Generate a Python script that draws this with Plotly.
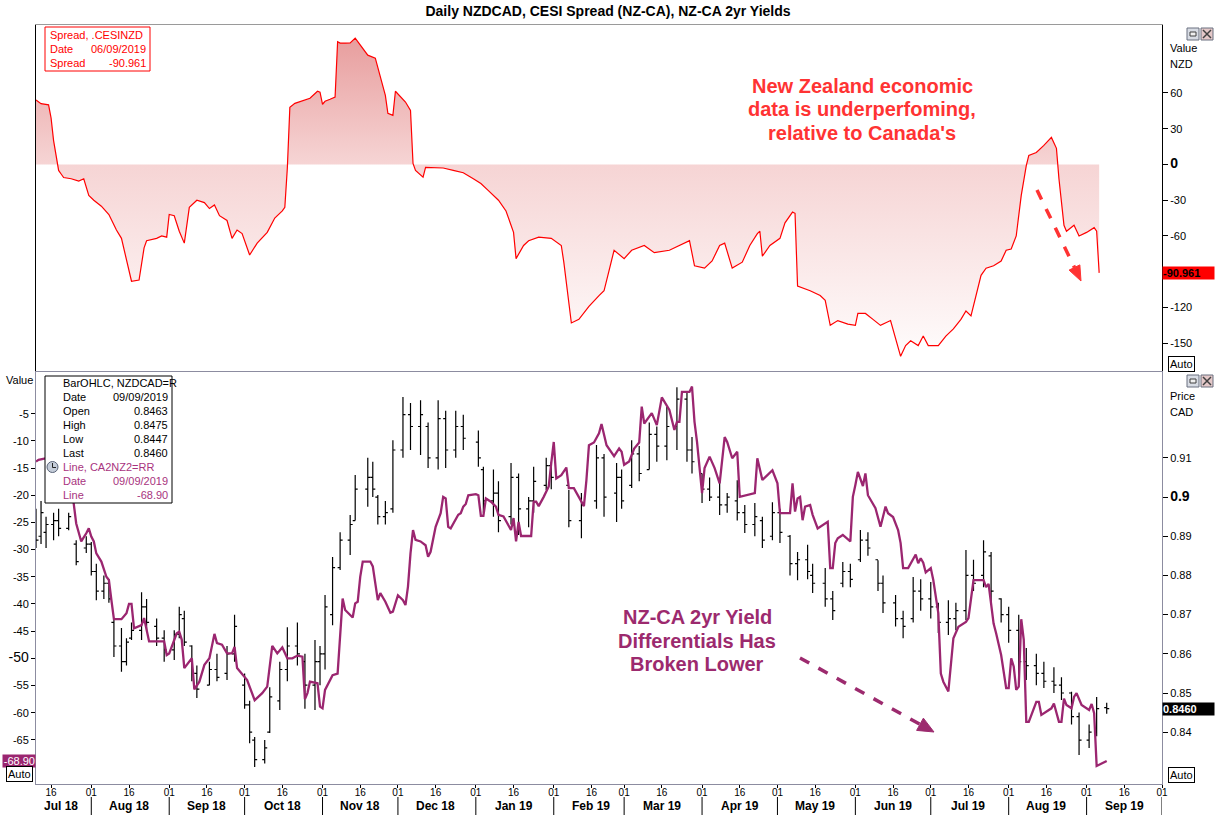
import plotly.graph_objects as go
import datetime as dt

# ---------------- DATA ----------------
# Top panel: CESI spread (NZ - CA)
cesi_dates = [
    "2018-07-10", "2018-07-12", "2018-07-15", "2018-07-16", "2018-07-17", "2018-07-19", "2018-07-20",
    "2018-07-21", "2018-07-24", "2018-07-27", "2018-07-29", "2018-07-31", "2018-08-02", "2018-08-05",
    "2018-08-08", "2018-08-11", "2018-08-13", "2018-08-15", "2018-08-17", "2018-08-20", "2018-08-22",
    "2018-08-23", "2018-08-27", "2018-08-29", "2018-08-31", "2018-09-01", "2018-09-03", "2018-09-05",
    "2018-09-07", "2018-09-09", "2018-09-12", "2018-09-15", "2018-09-17", "2018-09-19", "2018-09-21",
    "2018-09-24", "2018-09-26", "2018-09-28", "2018-09-30", "2018-10-03", "2018-10-06", "2018-10-10",
    "2018-10-13", "2018-10-16", "2018-10-17", "2018-10-18", "2018-10-19", "2018-10-21", "2018-10-24",
    "2018-10-27", "2018-10-30", "2018-10-31", "2018-11-01", "2018-11-02", "2018-11-04", "2018-11-06",
    "2018-11-07", "2018-11-08", "2018-11-10", "2018-11-12", "2018-11-14", "2018-11-16", "2018-11-19",
    "2018-11-22", "2018-11-24", "2018-11-26", "2018-11-27", "2018-11-29", "2018-11-30", "2018-12-02",
    "2018-12-04", "2018-12-06", "2018-12-07", "2018-12-08", "2018-12-11", "2018-12-12", "2018-12-17",
    "2018-12-19", "2018-12-23", "2018-12-27", "2018-12-31", "2019-01-03", "2019-01-06", "2019-01-10",
    "2019-01-13", "2019-01-16", "2019-01-17", "2019-01-20", "2019-01-22", "2019-01-26", "2019-01-31",
    "2019-02-04", "2019-02-05", "2019-02-06", "2019-02-08", "2019-02-11", "2019-02-15", "2019-02-19",
    "2019-02-21", "2019-02-23", "2019-02-25", "2019-03-01", "2019-03-04", "2019-03-09", "2019-03-13",
    "2019-03-19", "2019-03-23", "2019-03-27", "2019-03-29", "2019-04-02", "2019-04-05", "2019-04-08",
    "2019-04-10", "2019-04-13", "2019-04-17", "2019-04-20", "2019-04-23", "2019-04-24", "2019-04-25",
    "2019-04-28", "2019-05-02", "2019-05-04", "2019-05-07", "2019-05-08", "2019-05-09", "2019-05-14",
    "2019-05-18", "2019-05-20", "2019-05-22", "2019-05-25", "2019-05-29", "2019-06-01", "2019-06-02",
    "2019-06-05", "2019-06-08", "2019-06-11", "2019-06-15", "2019-06-17", "2019-06-19", "2019-06-21",
    "2019-06-23", "2019-06-26", "2019-06-28", "2019-06-30", "2019-07-04", "2019-07-07", "2019-07-10",
    "2019-07-13", "2019-07-15", "2019-07-17", "2019-07-19", "2019-07-21", "2019-07-23", "2019-07-26",
    "2019-07-29", "2019-07-31", "2019-08-02", "2019-08-04", "2019-08-06", "2019-08-08", "2019-08-09",
    "2019-08-12", "2019-08-15", "2019-08-17", "2019-08-18", "2019-08-20", "2019-08-21", "2019-08-23",
    "2019-08-24", "2019-08-27", "2019-08-29", "2019-09-01", "2019-09-04", "2019-09-05", "2019-09-06",
]
cesi_values = [
    54, 51, 50, 39, 20, -5, -8,
    -11, -12, -14, -12, -26, -30, -35,
    -42, -55, -62, -80, -98, -97, -70,
    -64, -62, -60, -61, -42, -43, -56,
    -66, -36, -30, -32, -37, -34, -43,
    -47, -62, -55, -58, -76, -66, -57,
    -45, -39, -36, -3, 48, 51.3, 53.3,
    55.5, 61.4, 60.6, 50.5, 53, 54.7, 56.6,
    103, 101.8, 101.8, 102, 106, 100, 91.7,
    89.2, 73.4, 58, 42.9, 41.2, 61.4, 57.2,
    52.4, 45.4, 0.8, -5, -10.7, -2.5, -2.5,
    -3, -5, -7, -12, -16, -22, -30,
    -39, -57, -79, -68, -64, -61, -62,
    -68, -82, -98, -133, -130, -119, -110,
    -106, -89, -72, -79, -72, -68, -74,
    -72, -68, -64, -85, -87, -81, -68,
    -66, -87, -82, -68, -58, -56, -77,
    -68, -62, -49, -40, -41, -102, -106,
    -110, -114, -135, -131, -134, -135, -125,
    -125, -130, -135, -131, -146, -161, -152,
    -148, -152, -144, -152, -152, -144, -138,
    -130, -123, -127, -110, -93, -87, -85,
    -81, -72, -71, -60, -26, -1, 7.6,
    10, 16, 20, 22.7, 13.5, -12, -51,
    -56, -51, -60, -57, -53, -56, -90.961,
]

# Bottom panel: NZDCAD daily OHLC (right axis)
bar_dates = [
    "2018-07-10", "2018-07-12", "2018-07-14", "2018-07-17", "2018-07-19", "2018-07-23", "2018-07-26",
    "2018-07-30", "2018-08-01", "2018-08-03", "2018-08-06", "2018-08-08", "2018-08-10", "2018-08-13",
    "2018-08-15", "2018-08-17", "2018-08-21", "2018-08-23", "2018-08-27", "2018-08-30", "2018-09-03",
    "2018-09-05", "2018-09-07", "2018-09-10", "2018-09-12", "2018-09-17", "2018-09-20", "2018-09-24",
    "2018-09-27", "2018-10-01", "2018-10-03", "2018-10-05", "2018-10-09", "2018-10-11", "2018-10-15",
    "2018-10-18", "2018-10-22", "2018-10-25", "2018-10-29", "2018-10-31", "2018-11-02", "2018-11-05",
    "2018-11-08", "2018-11-12", "2018-11-14", "2018-11-19", "2018-11-21", "2018-11-23", "2018-11-26",
    "2018-11-29", "2018-12-03", "2018-12-06", "2018-12-10", "2018-12-13", "2018-12-17", "2018-12-20",
    "2018-12-24", "2018-12-27", "2019-01-02", "2019-01-04", "2019-01-08", "2019-01-10", "2019-01-15",
    "2019-01-18", "2019-01-22", "2019-01-24", "2019-01-29", "2019-01-31", "2019-02-07", "2019-02-12",
    "2019-02-18", "2019-02-21", "2019-02-26", "2019-02-28", "2019-03-04", "2019-03-07", "2019-03-11",
    "2019-03-14", "2019-03-18", "2019-03-22", "2019-03-26", "2019-03-28", "2019-04-01", "2019-04-04",
    "2019-04-08", "2019-04-11", "2019-04-15", "2019-04-18", "2019-04-22", "2019-04-25", "2019-04-29",
    "2019-05-02", "2019-05-06", "2019-05-09", "2019-05-13", "2019-05-15", "2019-05-20", "2019-05-23",
    "2019-05-27", "2019-05-30", "2019-06-03", "2019-06-06", "2019-06-10", "2019-06-12", "2019-06-17",
    "2019-06-20", "2019-06-24", "2019-06-27", "2019-07-01", "2019-07-04", "2019-07-08", "2019-07-11",
    "2019-07-15", "2019-07-18", "2019-07-22", "2019-07-25", "2019-07-29", "2019-08-01", "2019-08-05",
    "2019-08-08", "2019-08-12", "2019-08-15", "2019-08-19", "2019-08-22", "2019-08-26", "2019-08-29",
    "2019-09-02", "2019-09-05", "2019-09-09",
]
bar_open = [
    0.894, 0.890, 0.891, 0.893, 0.894, 0.892, 0.888,
    0.887, 0.888, 0.881, 0.876, 0.878, 0.868, 0.862,
    0.858, 0.864, 0.866, 0.872, 0.867, 0.864, 0.861,
    0.865, 0.869, 0.862, 0.855, 0.852, 0.856, 0.855,
    0.860, 0.852, 0.847, 0.838, 0.833, 0.840, 0.848,
    0.856, 0.862, 0.858, 0.852, 0.858, 0.860, 0.870,
    0.882, 0.889, 0.894, 0.902, 0.905, 0.900, 0.895,
    0.897, 0.912, 0.921, 0.918, 0.918, 0.910, 0.920,
    0.912, 0.918, 0.914, 0.907, 0.899, 0.901, 0.895,
    0.905, 0.897, 0.899, 0.903, 0.908, 0.903, 0.894,
    0.899, 0.910, 0.901, 0.905, 0.903, 0.911, 0.907,
    0.916, 0.913, 0.918, 0.925, 0.912, 0.906, 0.902,
    0.900, 0.898, 0.899, 0.896, 0.893, 0.894, 0.890,
    0.896, 0.890, 0.883, 0.884, 0.880, 0.878, 0.874,
    0.878, 0.881, 0.884, 0.889, 0.884, 0.878, 0.873,
    0.869, 0.869, 0.876, 0.874, 0.872, 0.868, 0.869,
    0.871, 0.880, 0.880, 0.885, 0.874, 0.870, 0.866,
    0.858, 0.857, 0.855, 0.853, 0.852, 0.850, 0.844,
    0.838, 0.840, 0.8463,
]
bar_high = [
    0.897, 0.899, 0.895, 0.896, 0.897, 0.896, 0.889,
    0.890, 0.8885, 0.883, 0.880, 0.879, 0.8686, 0.8666,
    0.864, 0.868, 0.8757, 0.874, 0.869, 0.866, 0.866,
    0.872, 0.871, 0.8622, 0.857, 0.858, 0.860, 0.862,
    0.870, 0.855, 0.848, 0.8388, 0.838, 0.8515, 0.858,
    0.8668, 0.868, 0.860, 0.8635, 0.862, 0.875, 0.8847,
    0.891, 0.8954, 0.9056, 0.910, 0.909, 0.9005, 0.899,
    0.9145, 0.9255, 0.924, 0.9247, 0.919, 0.9247, 0.922,
    0.922, 0.921, 0.917, 0.9077, 0.907, 0.904, 0.9087,
    0.906, 0.900, 0.9077, 0.910, 0.909, 0.9018, 0.901,
    0.9133, 0.911, 0.9087, 0.907, 0.9145, 0.913, 0.919,
    0.918, 0.923, 0.928, 0.927, 0.9153, 0.906, 0.905,
    0.9043, 0.901, 0.9043, 0.898, 0.8985, 0.895, 0.8987,
    0.897, 0.8903, 0.886, 0.8878, 0.883, 0.8819, 0.876,
    0.8834, 0.883, 0.8916, 0.891, 0.8839, 0.880, 0.875,
    0.871, 0.8796, 0.879, 0.8783, 0.873, 0.8737, 0.873,
    0.8865, 0.884, 0.889, 0.886, 0.8742, 0.872, 0.870,
    0.8615, 0.860, 0.858, 0.8566, 0.854, 0.8503, 0.845,
    0.842, 0.849, 0.8475,
]
bar_low = [
    0.887, 0.888, 0.887, 0.889, 0.890, 0.8915, 0.8826,
    0.8857, 0.880, 0.8737, 0.874, 0.873, 0.8592, 0.8554,
    0.857, 0.8635, 0.8635, 0.866, 0.862, 0.858, 0.8584,
    0.864, 0.862, 0.853, 0.8487, 0.852, 0.853, 0.8533,
    0.858, 0.846, 0.8372, 0.8311, 0.832, 0.8398, 0.8457,
    0.853, 0.857, 0.846, 0.8457, 0.852, 0.856, 0.8673,
    0.8814, 0.8852, 0.894, 0.8975, 0.900, 0.893, 0.893,
    0.896, 0.910, 0.912, 0.9107, 0.9074, 0.907, 0.9074,
    0.910, 0.912, 0.9077, 0.896, 0.895, 0.891, 0.893,
    0.8903, 0.8923, 0.896, 0.9018, 0.902, 0.8923, 0.8895,
    0.897, 0.895, 0.8936, 0.897, 0.9023, 0.904, 0.907,
    0.909, 0.9094, 0.912, 0.909, 0.906, 0.8985, 0.899,
    0.8954, 0.896, 0.894, 0.8908, 0.890, 0.887, 0.889,
    0.8883, 0.880, 0.8788, 0.879, 0.8755, 0.872, 0.8686,
    0.877, 0.877, 0.8834, 0.885, 0.876, 0.8704, 0.867,
    0.864, 0.868, 0.871, 0.869, 0.8653, 0.8648, 0.866,
    0.8686, 0.876, 0.877, 0.8732, 0.868, 0.8628, 0.8526,
    0.8533, 0.852, 0.8513, 0.850, 0.8482, 0.842, 0.8342,
    0.836, 0.839, 0.8447,
]
bar_close = [
    0.889, 0.896, 0.893, 0.894, 0.892, 0.895, 0.8835,
    0.888, 0.881, 0.876, 0.878, 0.874, 0.862, 0.858,
    0.863, 0.866, 0.872, 0.868, 0.864, 0.861, 0.865,
    0.870, 0.863, 0.855, 0.851, 0.856, 0.854, 0.860,
    0.867, 0.847, 0.840, 0.833, 0.836, 0.849, 0.856,
    0.862, 0.860, 0.852, 0.858, 0.860, 0.872, 0.882,
    0.889, 0.893, 0.902, 0.905, 0.902, 0.895, 0.896,
    0.912, 0.921, 0.918, 0.921, 0.910, 0.920, 0.912,
    0.918, 0.915, 0.910, 0.899, 0.901, 0.894, 0.905,
    0.897, 0.899, 0.904, 0.908, 0.905, 0.894, 0.898,
    0.910, 0.900, 0.905, 0.899, 0.911, 0.906, 0.916,
    0.913, 0.918, 0.925, 0.912, 0.909, 0.902, 0.900,
    0.898, 0.900, 0.896, 0.893, 0.895, 0.889, 0.896,
    0.891, 0.883, 0.884, 0.881, 0.878, 0.874, 0.871,
    0.881, 0.879, 0.889, 0.887, 0.878, 0.873, 0.869,
    0.867, 0.876, 0.874, 0.872, 0.868, 0.869, 0.871,
    0.880, 0.878, 0.886, 0.876, 0.870, 0.866, 0.858,
    0.857, 0.855, 0.853, 0.852, 0.850, 0.844, 0.838,
    0.840, 0.846, 0.8460,
]

# Bottom panel: NZ-CA 2yr yield differential (left axis)
yield_dates = [
    "2018-07-10", "2018-07-11", "2018-07-16", "2018-07-19", "2018-07-23", "2018-07-25", "2018-07-26",
    "2018-07-28", "2018-07-30", "2018-07-31", "2018-08-01", "2018-08-02", "2018-08-03", "2018-08-05",
    "2018-08-07", "2018-08-08", "2018-08-09", "2018-08-10", "2018-08-13", "2018-08-15", "2018-08-16",
    "2018-08-17", "2018-08-18", "2018-08-21", "2018-08-22", "2018-08-23", "2018-08-24", "2018-08-30",
    "2018-08-31", "2018-09-01", "2018-09-04", "2018-09-05", "2018-09-06", "2018-09-07", "2018-09-10",
    "2018-09-11", "2018-09-13", "2018-09-15", "2018-09-17", "2018-09-19", "2018-09-20", "2018-09-22",
    "2018-09-24", "2018-09-26", "2018-09-27", "2018-09-28", "2018-10-02", "2018-10-05", "2018-10-08",
    "2018-10-10", "2018-10-12", "2018-10-14", "2018-10-16", "2018-10-18", "2018-10-20", "2018-10-22",
    "2018-10-24", "2018-10-25", "2018-10-26", "2018-10-27", "2018-10-30", "2018-10-31", "2018-11-01",
    "2018-11-02", "2018-11-05", "2018-11-07", "2018-11-08", "2018-11-09", "2018-11-10", "2018-11-13",
    "2018-11-14", "2018-11-15", "2018-11-16", "2018-11-17", "2018-11-20", "2018-11-21", "2018-11-22",
    "2018-11-23", "2018-11-24", "2018-11-26", "2018-11-28", "2018-11-29", "2018-12-01", "2018-12-03",
    "2018-12-04", "2018-12-05", "2018-12-06", "2018-12-07", "2018-12-08", "2018-12-10", "2018-12-12",
    "2018-12-13", "2018-12-14", "2018-12-15", "2018-12-16", "2018-12-18", "2018-12-19", "2018-12-20",
    "2018-12-21", "2018-12-22", "2018-12-23", "2018-12-25", "2018-12-26", "2018-12-27", "2018-12-28",
    "2018-12-29", "2019-01-01", "2019-01-02", "2019-01-03", "2019-01-04", "2019-01-05", "2019-01-07",
    "2019-01-09", "2019-01-10", "2019-01-12", "2019-01-15", "2019-01-16", "2019-01-17", "2019-01-18",
    "2019-01-19", "2019-01-23", "2019-01-24", "2019-01-25", "2019-01-26", "2019-01-28", "2019-01-30",
    "2019-01-31", "2019-02-01", "2019-02-02", "2019-02-04", "2019-02-06", "2019-02-07", "2019-02-09",
    "2019-02-13", "2019-02-14", "2019-02-15", "2019-02-17", "2019-02-19", "2019-02-20", "2019-02-22",
    "2019-02-25", "2019-02-27", "2019-02-28", "2019-03-01", "2019-03-03", "2019-03-05", "2019-03-07",
    "2019-03-08", "2019-03-09", "2019-03-12", "2019-03-14", "2019-03-16", "2019-03-19", "2019-03-21",
    "2019-03-22", "2019-03-23", "2019-03-24", "2019-03-27", "2019-03-28", "2019-03-29", "2019-03-30",
    "2019-03-31", "2019-04-01", "2019-04-02", "2019-04-04", "2019-04-06", "2019-04-08", "2019-04-10",
    "2019-04-11", "2019-04-13", "2019-04-15", "2019-04-16", "2019-04-21", "2019-04-22", "2019-04-23",
    "2019-04-25", "2019-04-27", "2019-04-29", "2019-05-01", "2019-05-02", "2019-05-06", "2019-05-07",
    "2019-05-08", "2019-05-09", "2019-05-10", "2019-05-11", "2019-05-12", "2019-05-14", "2019-05-15",
    "2019-05-17", "2019-05-21", "2019-05-22", "2019-05-23", "2019-05-24", "2019-05-25", "2019-05-27",
    "2019-05-30", "2019-05-31", "2019-06-01", "2019-06-02", "2019-06-04", "2019-06-05", "2019-06-06",
    "2019-06-09", "2019-06-11", "2019-06-13", "2019-06-14", "2019-06-16", "2019-06-18", "2019-06-19",
    "2019-06-20", "2019-06-22", "2019-06-25", "2019-06-26", "2019-06-27", "2019-06-28", "2019-06-29",
    "2019-07-01", "2019-07-02", "2019-07-04", "2019-07-05", "2019-07-06", "2019-07-08", "2019-07-10",
    "2019-07-12", "2019-07-15", "2019-07-16", "2019-07-17", "2019-07-18", "2019-07-22", "2019-07-23",
    "2019-07-24", "2019-07-25", "2019-07-26", "2019-07-27", "2019-07-29", "2019-07-31", "2019-08-01",
    "2019-08-02", "2019-08-03", "2019-08-04", "2019-08-05", "2019-08-06", "2019-08-07", "2019-08-08",
    "2019-08-09", "2019-08-12", "2019-08-13", "2019-08-14", "2019-08-16", "2019-08-18", "2019-08-19",
    "2019-08-21", "2019-08-22", "2019-08-23", "2019-08-24", "2019-08-26", "2019-08-27", "2019-08-28",
    "2019-08-30", "2019-09-02", "2019-09-03", "2019-09-04", "2019-09-05", "2019-09-06", "2019-09-09",
]
yield_values = [
    -13.8, -13.5, -13.0, -15.0, -18.0, -21.5, -25.2,
    -28.5, -27.0, -26.1, -27.6, -28.5, -30.7, -32.2,
    -35.0, -35.6, -39.3, -42.8, -42.8, -41.7, -40.0,
    -40.0, -44.5, -43.9, -42.6, -44.8, -46.9, -46.9,
    -49.4, -49.1, -45.4, -45.1, -46.6, -51.8, -50.0,
    -55.7, -54.3, -51.2, -50.0, -45.5, -47.2, -47.5,
    -49.1, -49.1, -47.9, -51.8, -54.0, -57.7, -56.4,
    -55.2, -47.7, -49.1, -48.0, -50.0, -50.0, -49.5,
    -49.7, -57.5, -56.4, -54.3, -54.6, -58.9, -59.2,
    -55.8, -53.1, -52.8, -44.8, -39.0, -41.1, -42.5,
    -39.9, -39.6, -35.0, -32.2, -32.2, -33.1, -36.2,
    -39.3, -38.0, -39.6, -41.6, -41.4, -38.4, -39.3,
    -40.2, -36.8, -30.7, -26.4, -28.2, -28.5, -29.2,
    -31.3, -30.4, -27.9, -25.8, -23.3, -20.3, -20.6,
    -25.8, -26.1, -25.2, -23.6, -23.3, -22.1, -21.6,
    -20.0, -19.8, -20.0, -23.8, -23.8, -20.6, -21.2,
    -22.1, -23.6, -23.9, -26.4, -24.2, -28.5, -24.9,
    -27.5, -27.5, -21.2, -21.2, -22.0, -20.3, -18.4,
    -14.1, -10.2, -16.9, -16.3, -14.9, -18.7, -18.7,
    -22.0, -17.2, -10.8, -10.3, -8.6, -6.9, -10.8,
    -12.8, -11.4, -12.0, -14.4, -13.8, -11.4, -10.3,
    -3.7, -6.8, -4.9, -7.1, -2.0, -4.3, -8.0,
    -6.5, -6.5, -1.0, -1.0, 0.0, -6.5, -10.2,
    -15.4, -19.6, -15.0, -12.9, -15.0, -17.8, -9.3,
    -10.2, -13.2, -12.0, -20.3, -19.8, -19.6, -13.2,
    -17.2, -16.3, -15.4, -17.8, -23.3, -23.3, -17.8,
    -23.0, -20.6, -20.3, -24.6, -22.1, -21.8, -23.6,
    -26.1, -24.9, -33.4, -33.4, -28.8, -27.9, -27.3,
    -28.5, -20.3, -18.1, -15.7, -18.3, -16.0, -20.0,
    -22.4, -25.8, -22.1, -23.3, -24.0, -26.4, -28.8,
    -33.4, -33.4, -30.9, -32.5, -31.6, -32.4, -34.2,
    -33.4, -35.6, -41.7, -52.8, -54.3, -56.1, -46.3,
    -44.2, -43.3, -42.6, -39.3, -35.6, -35.6, -36.9,
    -36.3, -39.6, -43.6, -45.4, -49.4, -55.5, -55.5,
    -50.0, -51.5, -55.8, -55.2, -42.8, -46.6, -61.7,
    -61.7, -58.0, -58.0, -60.4, -59.8, -59.2, -58.3,
    -61.7, -61.7, -57.4, -58.6, -59.2, -57.1, -56.4,
    -58.6, -59.5, -58.4, -60.1, -69.8, -69.6, -68.9,
]

month_labels = ["Jul 18", "Aug 18", "Sep 18", "Oct 18", "Nov 18", "Dec 18", "Jan 19",
                "Feb 19", "Mar 19", "Apr 19", "May 19", "Jun 19", "Jul 19", "Aug 19", "Sep 19"]
cesi_ticks = [60, 30, 0, -30, -60, -120, -150]
price_ticks = [0.91, 0.90, 0.89, 0.88, 0.87, 0.86, 0.85, 0.84]
yield_ticks = [-5, -10, -15, -20, -25, -30, -35, -40, -45, -50, -55, -60, -65]

# ---------------- LAYOUT HELPERS ----------------
FONT = "Arial, Liberation Sans, sans-serif"
W, H = 1217, 815
L, R, T, B = 36, 55, 25, 31
PW, PH = W - L - R, H - T - B
PURPLE = "#9b2670"
RED = "#ff0000"


def px(x):
    return (x - L) / PW


def py(y):
    return (H - B - y) / PH


X0, X1 = "2018-07-10", "2019-10-01"
top_dom = [py(371), 1.0]
bot_dom = [0.0, py(372)]

# x ticks: 16th and 1st of each month
tickvals, ticktext = [], []
d = dt.date(2018, 7, 1)
while d <= dt.date(2019, 10, 1):
    for day in (1, 16):
        t = dt.date(d.year, d.month, day)
        if dt.date(2018, 7, 10) <= t <= dt.date(2019, 10, 1):
            tickvals.append(t.isoformat())
            ticktext.append("%02d" % day)
    d = dt.date(d.year + (d.month // 12), d.month % 12 + 1, 1)

fig = go.Figure()

fig.add_trace(go.Scatter(
    x=cesi_dates, y=cesi_values, mode="lines", xaxis="x", yaxis="y",
    line=dict(color=RED, width=1.2), fill="tozeroy",
    fillgradient=dict(type="vertical", start=-173, stop=117,
                      colorscale=[[0, "rgb(255,255,255)"], [0.6, "rgb(246,212,212)"],
                                  [1, "rgb(230,152,152)"]]),
    hoverinfo="skip", showlegend=False,
))

fig.add_trace(go.Ohlc(
    x=bar_dates, open=bar_open, high=bar_high, low=bar_low, close=bar_close,
    xaxis="x2", yaxis="y2", tickwidth=0.5,
    increasing=dict(line=dict(color="black", width=1.2)),
    decreasing=dict(line=dict(color="black", width=1.2)),
    hoverinfo="skip", showlegend=False,
))

fig.add_trace(go.Scatter(
    x=yield_dates, y=yield_values, mode="lines", xaxis="x2", yaxis="y3",
    line=dict(color=PURPLE, width=2.3), hoverinfo="skip", showlegend=False,
))

axis_font = dict(family=FONT, size=11, color="black")

price_text = ["<span style='font-size:14px'><b>0.9</b></span>" if abs(v - 0.9) < 1e-9 else ("%g" % v)
              for v in price_ticks]
cesi_text = ["<span style='font-size:14px'><b>0</b></span>" if v == 0 else str(v) for v in cesi_ticks]
yield_text = ["<span style='font-size:14px'>-50</span>" if v == -50 else str(v) for v in yield_ticks]

fig.update_layout(
    width=W, height=H, margin=dict(l=L, r=R, t=T, b=B, autoexpand=False),
    paper_bgcolor="white", plot_bgcolor="white",
    font=dict(family=FONT, size=11, color="black"),
    showlegend=False, hovermode=False,
    title=dict(text="<b>Daily NZDCAD, CESI Spread (NZ-CA), NZ-CA 2yr Yields</b>",
               x=608 / W, xanchor="center", y=1 - 11 / H, yanchor="middle", automargin=False,
               font=dict(family=FONT, size=14, color="black")),
    xaxis=dict(domain=[0, 1], anchor="y", type="date", range=[X0, X1], automargin=False,
               showticklabels=False, ticks="", showgrid=False, zeroline=False,
               showline=True, linecolor="#9a9a9a", linewidth=1, mirror=True),
    xaxis2=dict(domain=[0, 1], anchor="y2", type="date", range=[X0, X1], matches="x", automargin=False,
                tickmode="array", tickvals=tickvals, ticktext=ticktext,
                ticks="outside", ticklen=3, tickcolor="black", tickangle=0, ticklabelstandoff=-4,
                tickfont=dict(family=FONT, size=10, color="black"),
                showgrid=False, zeroline=False, rangeslider=dict(visible=False),
                showline=True, linecolor="#8c8ca0", linewidth=1, mirror=True),
    yaxis=dict(domain=top_dom, anchor="x", side="right", range=[-173.3, 117], automargin=False,
               tickmode="array", tickvals=cesi_ticks, ticktext=cesi_text,
               ticks="outside", ticklen=5, tickcolor="black", tickfont=axis_font,
               showgrid=False, zeroline=False,
               showline=True, linecolor="black", linewidth=1, mirror=True),
    yaxis2=dict(domain=bot_dom, anchor="x2", side="right", range=[0.82679, 0.9319], automargin=False,
                tickmode="array", tickvals=price_ticks, ticktext=price_text,
                ticks="outside", ticklen=5, tickcolor="black", tickfont=axis_font,
                showgrid=False, zeroline=False,
                showline=True, linecolor="#8c8ca0", linewidth=1, mirror=True),
    yaxis3=dict(overlaying="y2", anchor="x2", side="left", range=[-73.12, 2.67], automargin=False,
                tickmode="array", tickvals=yield_ticks, ticktext=yield_text,
                ticks="outside", ticklen=4, tickcolor="black", tickfont=axis_font,
                showgrid=False, zeroline=False,
                showline=True, linecolor="#8c8ca0", linewidth=1),
)

ann = []
shapes = []


def text(x, y, s, color="black", size=11, xanchor="left", bold=False, **kw):
    ann.append(dict(xref="paper", yref="paper", x=px(x), y=py(y), text=("<b>%s</b>" % s) if bold else s,
                    showarrow=False, xanchor=xanchor, yanchor="middle",
                    font=dict(family=FONT, size=size, color=color), **kw))


# month labels (centered mid-month) and separators (month starts)
month_starts = []
d = dt.date(2018, 7, 1)
for i, lab in enumerate(month_labels):
    mid = dt.date(d.year, d.month, 16) if i > 0 else dt.date(2018, 7, 20)
    ann.append(dict(xref="x2", yref="paper", x=mid.isoformat(), y=py(806), text="<b>%s</b>" % lab,
                    showarrow=False, xanchor="center", yanchor="middle",
                    font=dict(family=FONT, size=12, color="black")))
    d = dt.date(d.year + (d.month // 12), d.month % 12 + 1, 1)
    month_starts.append(d.isoformat())
for ms in month_starts:
    shapes.append(dict(type="line", xref="x2", yref="paper", x0=ms, x1=ms, y0=py(797), y1=py(815),
                       line=dict(color="black", width=1)))

# top legend box
shapes.append(dict(type="rect", xref="paper", yref="paper", x0=px(45), x1=px(150), y0=py(27), y1=py(71),
                   line=dict(color=RED, width=1), fillcolor="white"))
text(48, 35, "Spread, .CESINZD", RED)
text(48, 49, "Date", RED)
text(48, 63, "Spread", RED)
text(148, 49, "06/09/2019", RED, xanchor="right")
text(148, 63, "-90.961", RED, xanchor="right")

# bottom legend box
shapes.append(dict(type="rect", xref="paper", yref="paper", x0=px(45), x1=px(172), y0=py(376), y1=py(503),
                   line=dict(color="black", width=1), fillcolor="white"))
left_col = ["BarOHLC, NZDCAD=R", "Date", "Open", "High", "Low", "Last"]
right_col = ["", "09/09/2019", "0.8463", "0.8475", "0.8447", "0.8460"]
for i, (a, b) in enumerate(zip(left_col, right_col)):
    yy = 383 + 14 * i
    text(61, yy, a)
    if b:
        text(170, yy, b, xanchor="right")
for i, (a, b) in enumerate(zip(["Line, CA2NZ2=RR", "Date", "Line"], ["", "09/09/2019", "-68.90"])):
    yy = 467 + 14 * i
    text(61, yy, a, "#a8337e")
    if b:
        text(170, yy, b, "#a8337e", xanchor="right")
shapes.append(dict(type="circle", xref="paper", yref="paper", x0=px(47), x1=px(58), y0=py(461.5), y1=py(472.5),
                   line=dict(color="#5a6478", width=1), fillcolor="#c4ccd8"))
shapes.append(dict(type="path", xref="paper", yref="paper",
                   path="M %f %f L %f %f L %f %f" % (px(52.5), py(463), px(52.5), py(467.5), px(56), py(467.5)),
                   line=dict(color="#222", width=1)))

# axis captions
text(1168, 48, "Value")
text(1168, 64, "NZD")
text(1168, 396, "Price")
text(1168, 412, "CAD")
text(4, 380, "Value")

# value flags
ann.append(dict(xref="paper", yref="y", x=1.0, y=-90.961, text="<b>-90.961</b>", showarrow=False,
                xanchor="left", yanchor="middle", bgcolor=RED, width=51, align="left", borderpad=0,
                font=dict(family=FONT, size=11, color="black")))
ann.append(dict(xref="paper", yref="y2", x=1.0, y=0.846, text="<b>0.8460</b>", showarrow=False,
                xanchor="left", yanchor="middle", bgcolor="black", width=51, align="left", borderpad=0,
                font=dict(family=FONT, size=11, color="white")))
ann.append(dict(xref="paper", yref="y3", x=0.0, y=-68.9, text="-68.90", showarrow=False,
                xanchor="right", yanchor="middle", bgcolor=PURPLE, width=32, align="right", borderpad=0,
                font=dict(family=FONT, size=11, color="white")))

# Auto boxes
for (ax, ay) in [(1181, 364), (1181, 775), (19, 774)]:
    ann.append(dict(xref="paper", yref="paper", x=px(ax), y=py(ay), text="Auto", showarrow=False,
                    xanchor="center", yanchor="middle", bordercolor="black", borderwidth=1, borderpad=1,
                    bgcolor="white", font=dict(family=FONT, size=11, color="black")))

# window icons
for wy in (28, 375):
    shapes.append(dict(type="rect", xref="paper", yref="paper", x0=px(1187), x1=px(1199), y0=py(wy), y1=py(wy + 12),
                       line=dict(color="#6a7080", width=1), fillcolor="#d8dce4"))
    shapes.append(dict(type="rect", xref="paper", yref="paper", x0=px(1190), x1=px(1196), y0=py(wy + 4), y1=py(wy + 8),
                       line=dict(color="#404040", width=1), fillcolor="#f0f0f0"))
    shapes.append(dict(type="rect", xref="paper", yref="paper", x0=px(1201), x1=px(1213), y0=py(wy), y1=py(wy + 12),
                       line=dict(color="#6a7080", width=1), fillcolor="#e4c8c8"))
    shapes.append(dict(type="path", xref="paper", yref="paper",
                       path="M %f %f L %f %f M %f %f L %f %f" % (px(1203), py(wy + 2), px(1211), py(wy + 10),
                                                                 px(1211), py(wy + 2), px(1203), py(wy + 10)),
                       line=dict(color="#404040", width=1.5)))

# commentary
for i, s in enumerate(["New Zealand economic", "data is underperfoming,", "relative to Canada's"]):
    text(862, 86 + 23.5 * i, s, "#ff3333", size=20, xanchor="center", bold=True)
for i, s in enumerate(["NZ-CA 2yr Yield", "Differentials Has", "Broken Lower"]):
    text(697, 617 + 23.5 * i, s, "#9c2a6e", size=20, xanchor="center", bold=True)


def arrow(x0, y0, x1, y1, color, width, head_len, head_w):
    import math
    dx, dy = x1 - x0, y1 - y0
    n = math.hypot(dx, dy)
    ux, uy = dx / n, dy / n
    bx, by = x1 - head_len * ux, y1 - head_len * uy
    shapes.append(dict(type="line", xref="paper", yref="paper", x0=px(x0), y0=py(y0), x1=px(bx), y1=py(by),
                       line=dict(color=color, width=width, dash="dash")))
    p1 = (bx - head_w * uy, by + head_w * ux)
    p2 = (bx + head_w * uy, by - head_w * ux)
    shapes.append(dict(type="path", xref="paper", yref="paper",
                       path="M %f %f L %f %f L %f %f Z" % (px(x1), py(y1), px(p1[0]), py(p1[1]), px(p2[0]), py(p2[1])),
                       line=dict(color=color, width=1), fillcolor=color))


arrow(1037, 190, 1081, 281, "#ff3333", 3.5, 15, 6)
arrow(800, 658, 934, 732, "#9c2a6e", 3.5, 16, 7)

fig.update_layout(annotations=ann, shapes=shapes)
fig.write_html("out.html", config={"displayModeBar": False},
               post_script="document.body.style.margin='0px';document.body.style.padding='0px';"
                           "document.body.style.overflow='hidden';")
